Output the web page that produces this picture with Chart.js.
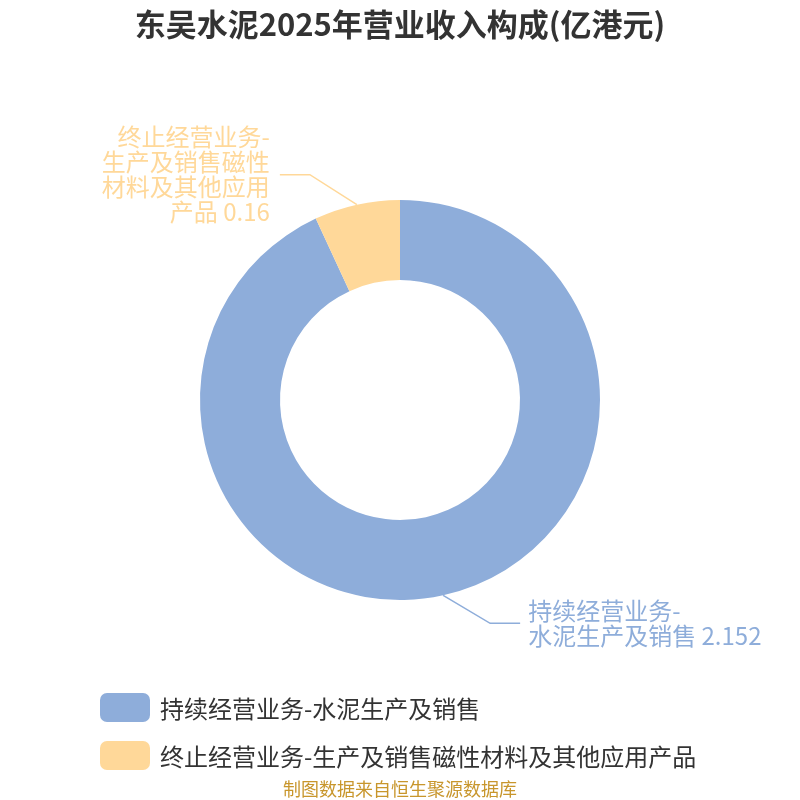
<!DOCTYPE html>
<html>
<head>
<meta charset="utf-8">
<script src="https://cdn.jsdelivr.net/npm/chart.js@4/dist/chart.umd.min.js"></script>
<style>
  html,body{margin:0;padding:0;background:#fff;}
  #wrap{position:relative;width:800px;height:800px;font-family:"Noto Sans CJK SC","Noto Sans",sans-serif;}
  #c{position:absolute;left:0;top:0;}
  #title{position:absolute;left:0;top:1px;width:800px;text-align:center;font-size:31px;font-weight:bold;color:#333;line-height:44px;}
  #legend{position:absolute;left:100px;top:692px;}
  .item{display:flex;align-items:center;height:30px;margin-bottom:18px;}
  .box{width:50px;height:29px;border-radius:7px;margin-right:10px;}
  .txt{font-size:24px;color:#333;white-space:nowrap;}
  #source{position:absolute;left:0;top:777px;width:800px;text-align:center;font-size:18px;color:#C8962C;line-height:22px;}
</style>
</head>
<body>
<div id="wrap">
  <canvas id="c" width="800" height="800"></canvas>
  <div id="title">东吴水泥2025年营业收入构成(亿港元)</div>
  <div id="legend"></div>
  <div id="source">制图数据来自恒生聚源数据库</div>
</div>
<script>
const categories = ["持续经营业务-水泥生产及销售", "终止经营业务-生产及销售磁性材料及其他应用产品"];
const values = [2.152, 0.16];
const labelLines = [["持续经营业务-", "水泥生产及销售 2.152"], ["终止经营业务-", "生产及销售磁性", "材料及其他应用", "产品 0.16"]];
const colors = ["#8EADDA", "#FFD899"];

const labelPlugin = {
  id: 'outLabels',
  afterDatasetsDraw(chart) {
    const ctx = chart.ctx;
    const meta = chart.getDatasetMeta(0);
    meta.data.forEach((arc, i) => {
      const p = arc.getProps(['x','y','startAngle','endAngle','outerRadius'], true);
      const mid = (p.startAngle + p.endAngle) / 2;
      const sx = p.x + Math.cos(mid) * p.outerRadius;
      const sy = p.y + Math.sin(mid) * p.outerRadius;
      const right = Math.cos(mid) >= 0;
      const down = Math.sin(mid) >= 0;
      const ex = sx + (right ? 47 : -47);
      const ey = sy + (down ? 28 : -30);
      const hx = ex + (right ? 30 : -30);
      ctx.save();
      ctx.strokeStyle = colors[i];
      ctx.lineWidth = 1.5;
      ctx.beginPath();
      ctx.moveTo(sx, sy);
      ctx.lineTo(ex, ey);
      ctx.lineTo(hx, ey);
      ctx.stroke();
      ctx.fillStyle = colors[i];
      ctx.font = '24px "Noto Sans CJK SC", sans-serif';
      ctx.textBaseline = 'middle';
      ctx.textAlign = right ? 'left' : 'right';
      const lines = labelLines[i];
      const lh = 25;
      const tx = hx + (right ? 8 : -10);
      const top = ey - (lines.length - 1) * lh / 2;
      lines.forEach((t, k) => ctx.fillText(t, tx, top + k * lh));
      ctx.restore();
    });
  }
};

new Chart(document.getElementById('c'), {
  type: 'doughnut',
  data: {
    labels: categories,
    datasets: [{
      data: values,
      backgroundColor: colors,
      borderWidth: 0,
      hoverOffset: 0
    }]
  },
  options: {
    responsive: false,
    animation: false,
    cutout: '60%',
    layout: { padding: { left: 200, right: 200, top: 200, bottom: 200 } },
    plugins: { legend: { display: false }, tooltip: { enabled: false } },
    events: []
  },
  plugins: [labelPlugin]
});

const lg = document.getElementById('legend');
categories.forEach((c, i) => {
  const d = document.createElement('div');
  d.className = 'item';
  d.innerHTML = '<div class="box" style="background:' + colors[i] + '"></div><div class="txt"></div>';
  d.querySelector('.txt').textContent = c;
  lg.appendChild(d);
});
</script>
</body>
</html>
